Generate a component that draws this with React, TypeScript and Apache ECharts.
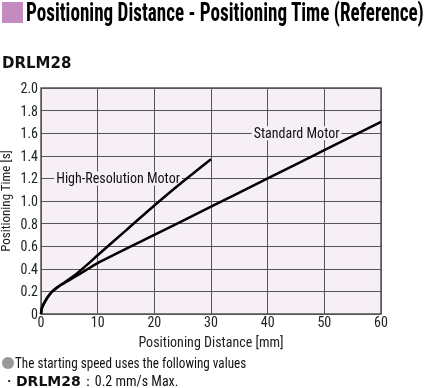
import React, { useEffect, useRef } from "react";
import * as echarts from "echarts";

const xTicks = [0, 10, 20, 30, 40, 50, 60];
const yTicks = [0, 0.2, 0.4, 0.6, 0.8, 1.0, 1.2, 1.4, 1.6, 1.8, 2.0];

const hiResX = [0, 0.1, 0.3, 0.6, 1, 1.5, 2, 3, 4, 5, 6, 8, 10, 15, 20, 25, 30];
const hiResY = [0, 0.04, 0.07, 0.1, 0.135, 0.17, 0.2, 0.24, 0.275, 0.31, 0.345, 0.43, 0.52, 0.74, 0.96, 1.17, 1.37];

const stdX = [0, 0.1, 0.3, 0.6, 1, 1.5, 2, 3, 4, 5, 6, 8, 10, 20, 30, 40, 50, 60];
const stdY = [0, 0.04, 0.07, 0.1, 0.135, 0.17, 0.2, 0.24, 0.27, 0.3, 0.33, 0.39, 0.45, 0.7, 0.95, 1.2, 1.45, 1.7];

const labels = [
  { name: "High-Resolution Motor", x: 13.6, y: 1.2 },
  { name: "Standard Motor", x: 45.1, y: 1.6 },
];

const PLOT_BG = "#f6f0f6";
const NARROW = "'Liberation Sans Narrow', 'Roboto Condensed', 'Liberation Sans', sans-serif";

export default function App() {
  const ref = useRef<HTMLDivElement>(null);
  useEffect(() => {
    const chart = echarts.init(ref.current!, null, { renderer: "svg" });
    const zip = (xs: number[], ys: number[]) => xs.map((x, i) => [x, ys[i]]);
    chart.setOption({
      animation: false,
      grid: {
        left: 41, right: 43, top: 88, bottom: 74, show: true, backgroundColor: PLOT_BG,
        borderColor: "#555", borderWidth: 1.5, containLabel: false, outerBoundsMode: "none",
      },
      xAxis: {
        type: "value", min: xTicks[0], max: xTicks[xTicks.length - 1], interval: 10,
        name: "Positioning Distance [mm]", nameLocation: "middle", nameGap: 21, nameMoveOverlap: false,
        nameTextStyle: { fontFamily: NARROW, fontSize: 14, color: "#222" },
        axisLine: { show: false }, axisTick: { show: false },
        axisLabel: { fontFamily: NARROW, fontSize: 14, color: "#222", margin: 1 },
        splitLine: { show: true, lineStyle: { color: "#555", width: 1 } },
      },
      yAxis: {
        type: "value", min: yTicks[0], max: yTicks[yTicks.length - 1], interval: 0.2,
        name: "Positioning Time [s]", nameLocation: "middle", nameGap: 29, nameMoveOverlap: false,
        nameTextStyle: { fontFamily: NARROW, fontSize: 13, color: "#222" },
        axisLine: { show: false }, axisTick: { show: false },
        axisLabel: {
          fontFamily: NARROW, fontSize: 14, color: "#222", margin: 3,
          formatter: (v: number) => (v === 0 ? "0" : v.toFixed(1)),
        },
        splitLine: { show: true, lineStyle: { color: "#555", width: 1 } },
      },
      series: [
        {
          type: "line", name: "High-Resolution Motor", data: zip(hiResX, hiResY), smooth: 0.3,
          showSymbol: false, lineStyle: { color: "#000", width: 2.5 }, z: 5,
        },
        {
          type: "line", name: "Standard Motor", data: zip(stdX, stdY), smooth: 0.3,
          showSymbol: false, lineStyle: { color: "#000", width: 2.5 }, z: 5,
          markPoint: {
            symbol: "rect", symbolSize: 0, silent: true,
            label: {
              show: true, position: "inside", formatter: (p: any) => p.name,
              fontFamily: NARROW, fontSize: 14, color: "#111",
              backgroundColor: PLOT_BG, padding: [0, 2],
            },
            data: labels.map((l) => ({ name: l.name, coord: [l.x, l.y] })),
          },
        },
      ],
      graphic: [
        { type: "rect", shape: { x: 2, y: 2, width: 21, height: 21 }, style: { fill: "#c48bc0" } },
        {
          type: "text", x: 26, y: 0, scaleX: 0.765,
          style: { text: "Positioning Distance - Positioning Time (Reference)", fontFamily: NARROW, fontWeight: "bold", fontSize: 25, fill: "#000" },
        },
        {
          type: "text", x: 2, y: 55,
          style: { text: "DRLM28", fontFamily: "'DejaVu Sans', sans-serif", fontWeight: "bold", fontSize: 15, fill: "#111" },
        },
        { type: "circle", shape: { cx: 8, cy: 363, r: 6 }, style: { fill: "#999" } },
        {
          type: "text", x: 15, y: 356, scaleX: 0.94,
          style: { text: "The starting speed uses the following values", fontFamily: NARROW, fontSize: 14, fill: "#111" },
        },
        {
          type: "text", x: 2, y: 374,
          style: {
            text: "{a|・}{b|DRLM28}{a|：0.2 mm/s Max.}",
            rich: {
              a: { fontFamily: NARROW, fontSize: 14, fill: "#111" },
              b: { fontFamily: "'DejaVu Sans', sans-serif", fontWeight: "bold", fontSize: 14, fill: "#111" },
            },
          },
        },
      ],
    });
    return () => chart.dispose();
  }, []);
  return <div ref={ref} style={{ position: "fixed", left: 0, top: 0, width: 424, height: 388 }} />;
}
